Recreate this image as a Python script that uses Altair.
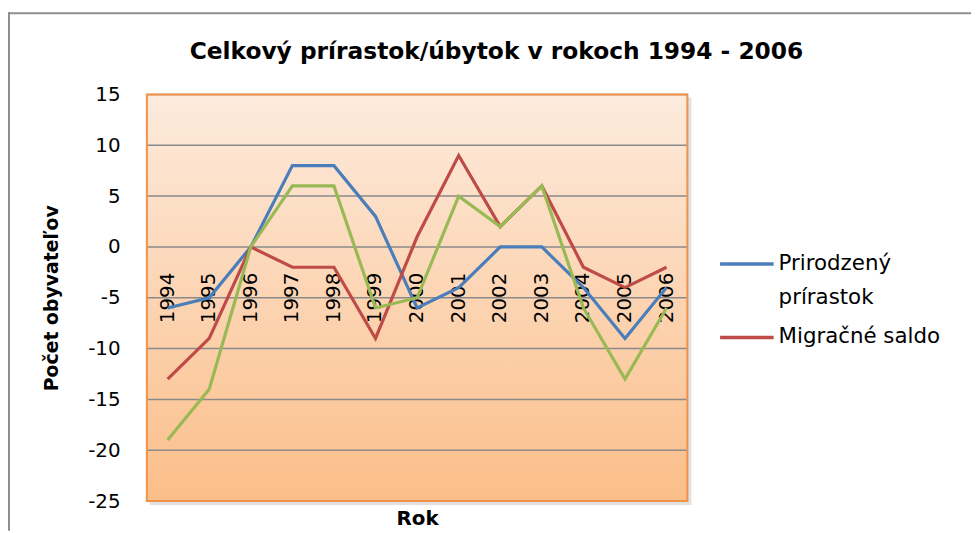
import altair as alt
import pandas as pd

# ---- data ----
years = ["1994", "1995", "1996", "1997", "1998", "1999", "2000",
         "2001", "2002", "2003", "2004", "2005", "2006"]
prirodzeny = [-6, -5, 0, 8, 8, 3, -6, -4, 0, 0, -4, -9, -4]
migracne = [-13, -9, 0, -2, -2, -9, 1, 9, 2, 6, -2, -4, -2]
celkovy = [-19, -14, 0, 6, 6, -6, -5, 5, 2, 6, -6, -13, -6]
series_names = ["Prirodzený prírastok", "Migračné saldo", "Celkový prírastok"]
series_colors = ["#4A7EBB", "#BE4B48", "#98B954"]
y_ticks = [15, 10, 5, 0, -5, -10, -15, -20, -25]

rows = []
for name, vals in zip(series_names, [prirodzeny, migracne, celkovy]):
    for yr, v in zip(years, vals):
        rows.append({"Rok": yr, "Seria": name, "Hodnota": v})
df = pd.DataFrame(rows)

W, H = 545, 410
FONT = "DejaVu Sans"
PAD_L, PAD_T = 140, 85
TOTAL_W, TOTAL_H = 971, 525

y_scale = alt.Scale(domain=[-25, 15], nice=False, zero=False)
x_scale = alt.Scale(type="point", padding=0.5)

x_axis = alt.Axis(title="Rok", labels=False, ticks=False, domain=False, grid=False,
                  titleFont=FONT, titleFontSize=20, titleFontWeight="bold",
                  titleColor="black", titleX=W / 2, titleY=18,
                  titleBaseline="middle", titleAlign="center")
y_axis = alt.Axis(values=y_ticks, title="Počet obyvateľov", domain=False, ticks=False,
                  grid=False, labelFont=FONT, labelFontSize=20, labelColor="black",
                  labelPadding=27, labelExpr="toString(datum.value)",
                  titleFont=FONT, titleFontSize=19,
                  titleFontWeight="bold", titleColor="black", titleX=-96, titleY=H / 2,
                  titleAngle=270, titleAlign="center", titleBaseline="middle")

one = pd.DataFrame({"a": [0]})

# outer chart frame (top and left edges, as in the cropped reference)
frame_top = alt.Chart(one).mark_rect(fill="#8e8e8e").encode(
    x=alt.value(-140), x2=alt.value(TOTAL_W - PAD_L), y=alt.value(-83), y2=alt.value(-81))
frame_left = alt.Chart(one).mark_rect(fill="#8e8e8e").encode(
    x=alt.value(-140), x2=alt.value(-138), y=alt.value(-83), y2=alt.value(TOTAL_H - PAD_T))

shadow = alt.Chart(one).mark_rect(fill="#bdbdbd", opacity=0.45).encode(
    x=alt.value(3), x2=alt.value(W + 4), y=alt.value(3), y2=alt.value(H + 4))

background = alt.Chart(one).mark_rect(
    fill={"gradient": "linear", "x1": 0, "y1": 0, "x2": 0, "y2": 1,
          "stops": [{"offset": 0, "color": "#FDEBDD"},
                    {"offset": 1, "color": "#FBBE89"}]}
).encode(x=alt.value(0), x2=alt.value(W), y=alt.value(0), y2=alt.value(H))

grid = alt.Chart(pd.DataFrame({"v": y_ticks})).mark_rule(
    color="#8a8a8a", strokeWidth=1.5
).encode(y=alt.Y("v:Q", scale=y_scale, axis=y_axis), x=alt.value(0), x2=alt.value(W))

border = alt.Chart(one).mark_rect(fill=None, stroke="#F0924A", strokeWidth=2).encode(
    x=alt.value(0), x2=alt.value(W), y=alt.value(0), y2=alt.value(H))

xlabels = alt.Chart(pd.DataFrame({"Rok": years})).mark_text(
    angle=270, align="right", baseline="middle", font=FONT, fontSize=20,
    color="black", yOffset=26
).encode(x=alt.X("Rok:O", scale=x_scale, axis=x_axis),
         y=alt.YDatum(0, scale=y_scale, axis=y_axis), text="Rok:N")

color_enc = alt.Color(
    "Seria:N",
    scale=alt.Scale(domain=series_names, range=series_colors),
    legend=alt.Legend(
        values=series_names[:2], title=None, orient="none", legendX=576, legendY=142,
        symbolType="stroke", symbolSize=2916, symbolStrokeWidth=3.5,
        labelFont=FONT, labelFontSize=21.5, labelColor="black", labelOffset=3,
        labelLimit=0, padding=0, rowPadding=-5,
        labelExpr="datum.label == 'Prirodzený prírastok' ? ['Prirodzený', 'prírastok'] : datum.label",
    ),
)

lines = []
for name in series_names:
    lines.append(
        alt.Chart(df).transform_filter(alt.datum.Seria == name).mark_line(strokeWidth=3.2).encode(
            x=alt.X("Rok:O", scale=x_scale, axis=x_axis),
            y=alt.Y("Hodnota:Q", scale=y_scale, axis=y_axis),
            color=color_enc,
        )
    )

chart = alt.layer(
    frame_top, frame_left, shadow, background, grid, border, xlabels, *lines
).properties(
    width=W, height=H,
    title=alt.TitleParams(
        "Celkový prírastok/úbytok v rokoch 1994 - 2006", font=FONT, fontSize=23.5,
        fontWeight="bold", color="black", anchor="middle", frame="group", dx=80,
        offset=-71, baseline="alphabetic"),
    autosize=alt.AutoSizeParams(type="none"),
    padding={"left": PAD_L, "top": PAD_T, "right": TOTAL_W - PAD_L - W,
             "bottom": TOTAL_H - PAD_T - H},
    background="white",
).configure_view(stroke=None).configure(style={"guide-label": {"lineHeight": 34}})

chart.save("out.html", embed_options={"renderer": "svg", "actions": False})
